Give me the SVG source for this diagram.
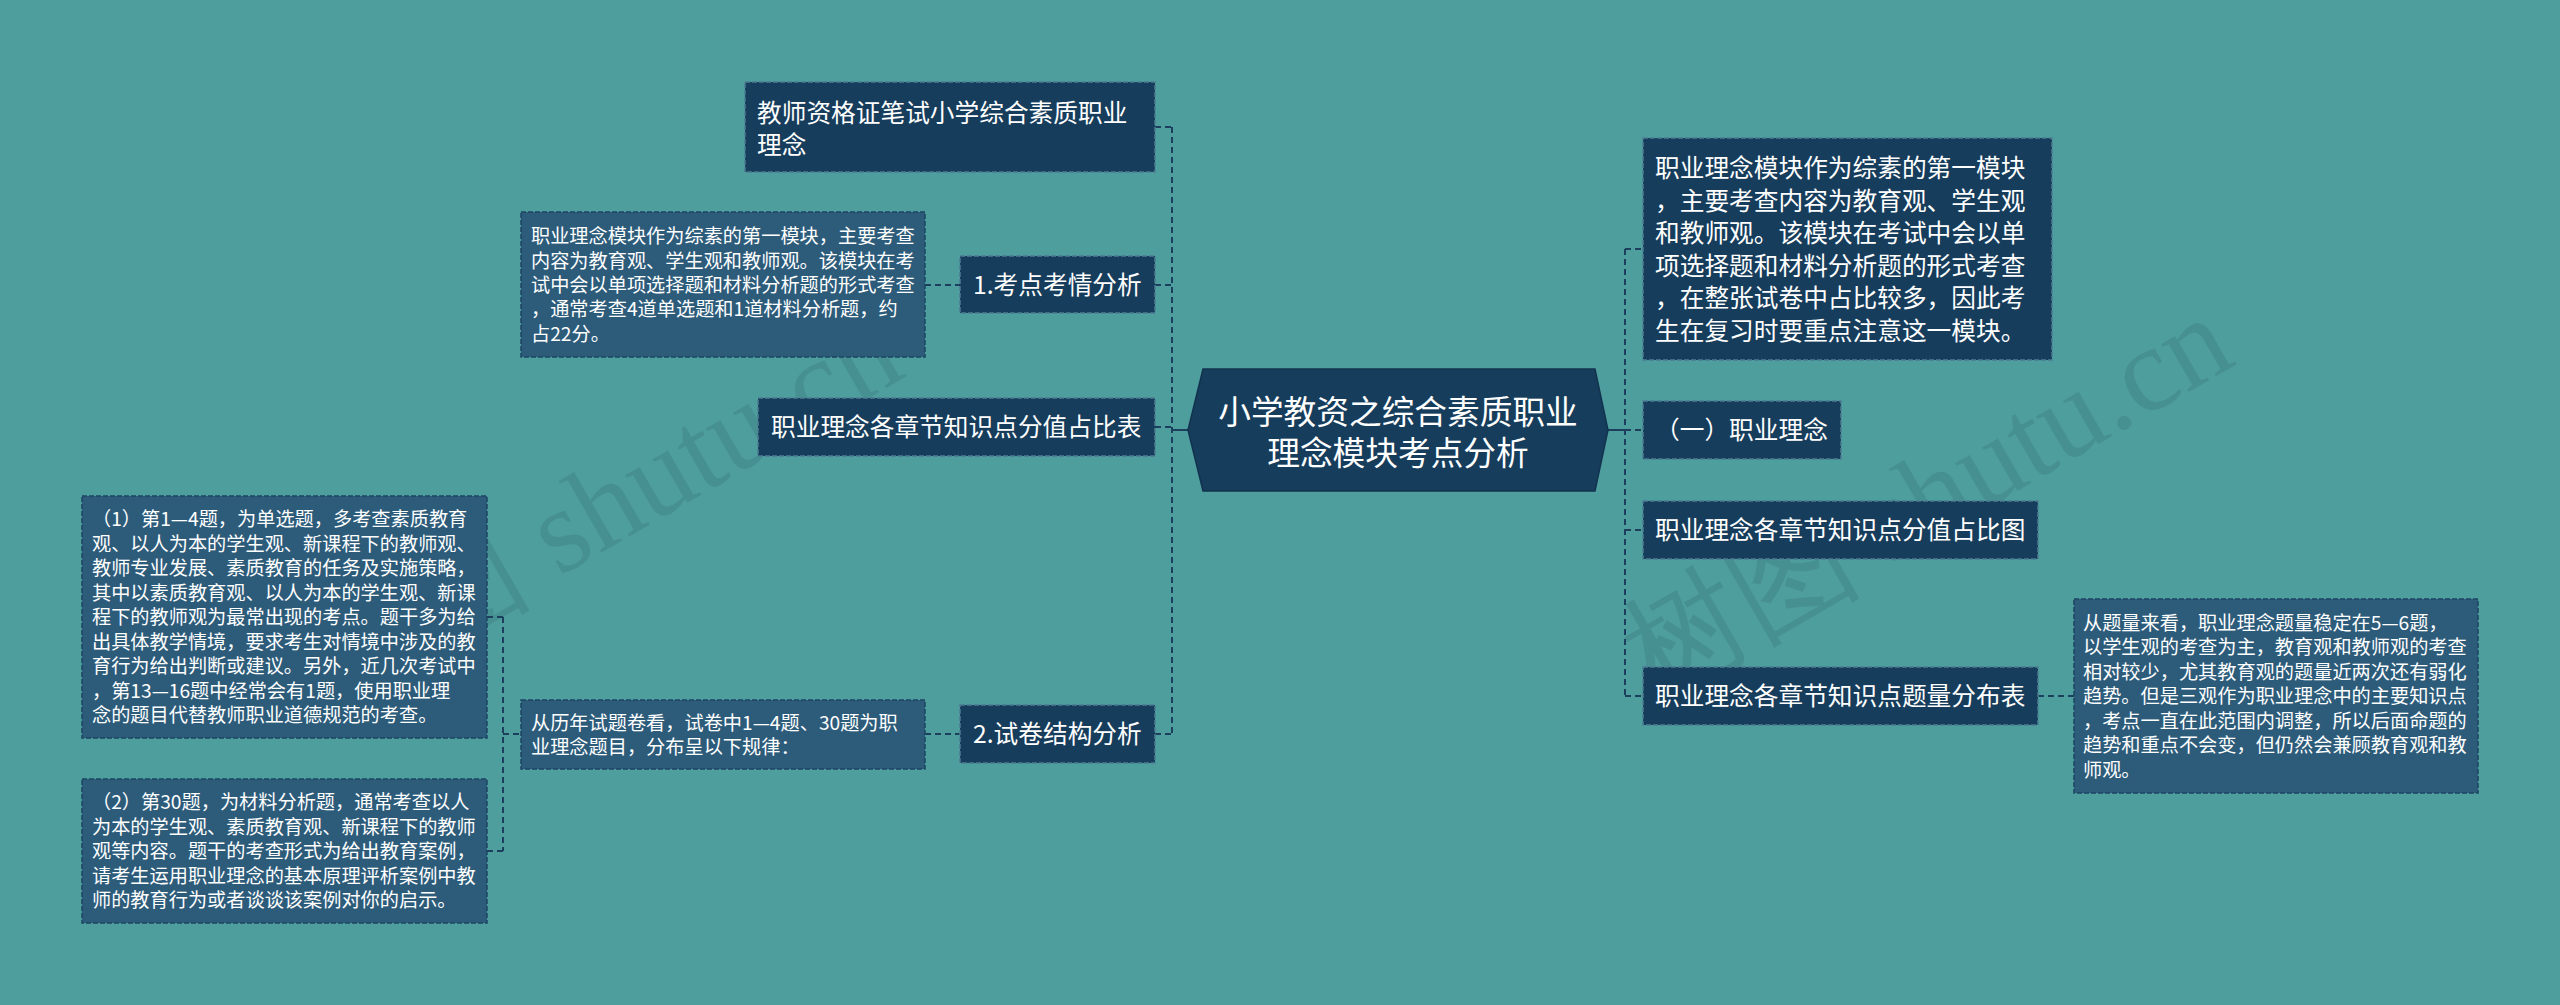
<svg xmlns="http://www.w3.org/2000/svg" width="2560" height="1005" viewBox="0 0 2560 1005">
<style>
.bg{fill:#4f9e9e}
.main{fill:#173d5c;stroke:#4d7c92;stroke-width:1.5;stroke-dasharray:5 2}
.leaf{fill:#2d5c7b;stroke:#1d4463;stroke-width:1.5;stroke-dasharray:5 2}
.t{font-family:"Noto Sans CJK SC","Microsoft YaHei",sans-serif;fill:#ffffff}
.tm{font-size:24.7px}
.ts{font-size:19.2px}
.tc{font-size:32.7px;text-anchor:middle}
.c{fill:none;stroke:#1b3f5d;stroke-width:2;stroke-dasharray:6 4}
.cs{fill:none;stroke:#1b3f5d;stroke-width:2}
.wm{font-family:"Liberation Serif",serif;font-size:120px;fill:#2f5f68;fill-opacity:0.22}
</style>
<rect class="bg" x="0" y="0" width="2560" height="1005"/>

<g id="watermarks">
  <text class="wm" x="325" y="712" transform="rotate(-30 325 712)">树图 shutu.cn</text>
  <text class="wm" x="1655" y="700" transform="rotate(-30 1655 700)">树图 shutu.cn</text>
</g>

<g id="connectors">
  <path class="c" d="M1172 127V734M1155 127H1172M1155 285H1172M1155 427H1172M1155 734H1172"/>
  <path class="cs" d="M1172 430H1188"/>
  <path class="c" d="M1625 249V696M1625 249H1643M1625 430H1643M1625 530H1643M1625 696H1643"/>
  <path class="cs" d="M1608 430H1625"/>
  <path class="c" d="M2038 696H2074"/>
  <path class="c" d="M925 285H960"/>
  <path class="c" d="M925 734H960"/>
  <path class="c" d="M503 617V851M487 617H503M487 851H503M503 734H521"/>
</g>

<g id="center">
  <polygon points="1188,430 1203,369 1595,369 1608,430 1595,491 1203,491" fill="#173d5c" stroke="#12334f" stroke-width="1.5"/>
  <text class="t tc" x="1398" y="424.4">小学教资之综合素质职业</text>
  <text class="t tc" x="1398" y="465.4">理念模块考点分析</text>
</g>

<g id="node-title">
  <rect class="main" x="745" y="82" width="410" height="90"/>
  <text class="t tm" x="757" y="122.4">教师资格证笔试小学综合素质职业</text>
  <text class="t tm" x="757" y="154.4">理念</text>
</g>

<g id="node-kaodian">
  <rect class="main" x="960" y="256" width="195" height="57"/>
  <text class="t tm" x="973" y="294">1.考点考情分析</text>
</g>

<g id="leaf-kaodian">
  <rect class="leaf" x="521" y="212" width="404" height="145"/>
  <text class="t ts" x="531" y="243.3">职业理念模块作为综素的第一模块，主要考查</text>
  <text class="t ts" x="531" y="267.6">内容为教育观、学生观和教师观。该模块在考</text>
  <text class="t ts" x="531" y="291.9">试中会以单项选择题和材料分析题的形式考查</text>
  <text class="t ts" x="531" y="316.2">，通常考查4道单选题和1道材料分析题，约</text>
  <text class="t ts" x="531" y="340.5">占22分。</text>
</g>

<g id="node-fenzhi-biao">
  <rect class="main" x="758" y="398" width="397" height="58"/>
  <text class="t tm" x="771" y="436">职业理念各章节知识点分值占比表</text>
</g>

<g id="node-shijuan">
  <rect class="main" x="960" y="705" width="195" height="58"/>
  <text class="t tm" x="973" y="743">2.试卷结构分析</text>
</g>

<g id="leaf-shijuan">
  <rect class="leaf" x="521" y="700" width="404" height="69"/>
  <text class="t ts" x="531" y="729.6">从历年试题卷看，试卷中1—4题、30题为职</text>
  <text class="t ts" x="531" y="754">业理念题目，分布呈以下规律：</text>
</g>

<g id="leaf-1">
  <rect class="leaf" x="82" y="496" width="405" height="242"/>
  <text class="t ts" x="92" y="526.3">（1）第1—4题，为单选题，多考查素质教育</text>
  <text class="t ts" x="92" y="550.8">观、以人为本的学生观、新课程下的教师观、</text>
  <text class="t ts" x="92" y="575.3">教师专业发展、素质教育的任务及实施策略，</text>
  <text class="t ts" x="92" y="599.8">其中以素质教育观、以人为本的学生观、新课</text>
  <text class="t ts" x="92" y="624.3">程下的教师观为最常出现的考点。题干多为给</text>
  <text class="t ts" x="92" y="648.8">出具体教学情境，要求考生对情境中涉及的教</text>
  <text class="t ts" x="92" y="673.3">育行为给出判断或建议。另外，近几次考试中</text>
  <text class="t ts" x="92" y="697.8">，第13—16题中经常会有1题，使用职业理</text>
  <text class="t ts" x="92" y="722.3">念的题目代替教师职业道德规范的考查。</text>
</g>

<g id="leaf-2">
  <rect class="leaf" x="82" y="779" width="405" height="144"/>
  <text class="t ts" x="92" y="809.3">（2）第30题，为材料分析题，通常考查以人</text>
  <text class="t ts" x="92" y="833.8">为本的学生观、素质教育观、新课程下的教师</text>
  <text class="t ts" x="92" y="858.3">观等内容。题干的考查形式为给出教育案例，</text>
  <text class="t ts" x="92" y="882.8">请考生运用职业理念的基本原理评析案例中教</text>
  <text class="t ts" x="92" y="907.3">师的教育行为或者谈谈该案例对你的启示。</text>
</g>

<g id="node-intro">
  <rect class="main" x="1643" y="138" width="409" height="222"/>
  <text class="t tm" x="1655" y="176.9">职业理念模块作为综素的第一模块</text>
  <text class="t tm" x="1655" y="209.5">，主要考查内容为教育观、学生观</text>
  <text class="t tm" x="1655" y="242.1">和教师观。该模块在考试中会以单</text>
  <text class="t tm" x="1655" y="274.7">项选择题和材料分析题的形式考查</text>
  <text class="t tm" x="1655" y="307.3">，在整张试卷中占比较多，因此考</text>
  <text class="t tm" x="1655" y="339.9">生在复习时要重点注意这一模块。</text>
</g>

<g id="node-linian">
  <rect class="main" x="1643" y="401" width="198" height="58"/>
  <text class="t tm" x="1655" y="439.4">（一）职业理念</text>
</g>

<g id="node-fenzhi-tu">
  <rect class="main" x="1643" y="501" width="395" height="58"/>
  <text class="t tm" x="1655" y="539.4">职业理念各章节知识点分值占比图</text>
</g>

<g id="node-tiliang">
  <rect class="main" x="1643" y="667" width="395" height="58"/>
  <text class="t tm" x="1655" y="705.4">职业理念各章节知识点题量分布表</text>
</g>

<g id="leaf-tiliang">
  <rect class="leaf" x="2074" y="599" width="404" height="194"/>
  <text class="t ts" x="2083" y="629.8">从题量来看，职业理念题量稳定在5—6题，</text>
  <text class="t ts" x="2083" y="654.3">以学生观的考查为主，教育观和教师观的考查</text>
  <text class="t ts" x="2083" y="678.8">相对较少，尤其教育观的题量近两次还有弱化</text>
  <text class="t ts" x="2083" y="703.3">趋势。但是三观作为职业理念中的主要知识点</text>
  <text class="t ts" x="2083" y="727.8">，考点一直在此范围内调整，所以后面命题的</text>
  <text class="t ts" x="2083" y="752.3">趋势和重点不会变，但仍然会兼顾教育观和教</text>
  <text class="t ts" x="2083" y="776.8">师观。</text>
</g>
</svg>
